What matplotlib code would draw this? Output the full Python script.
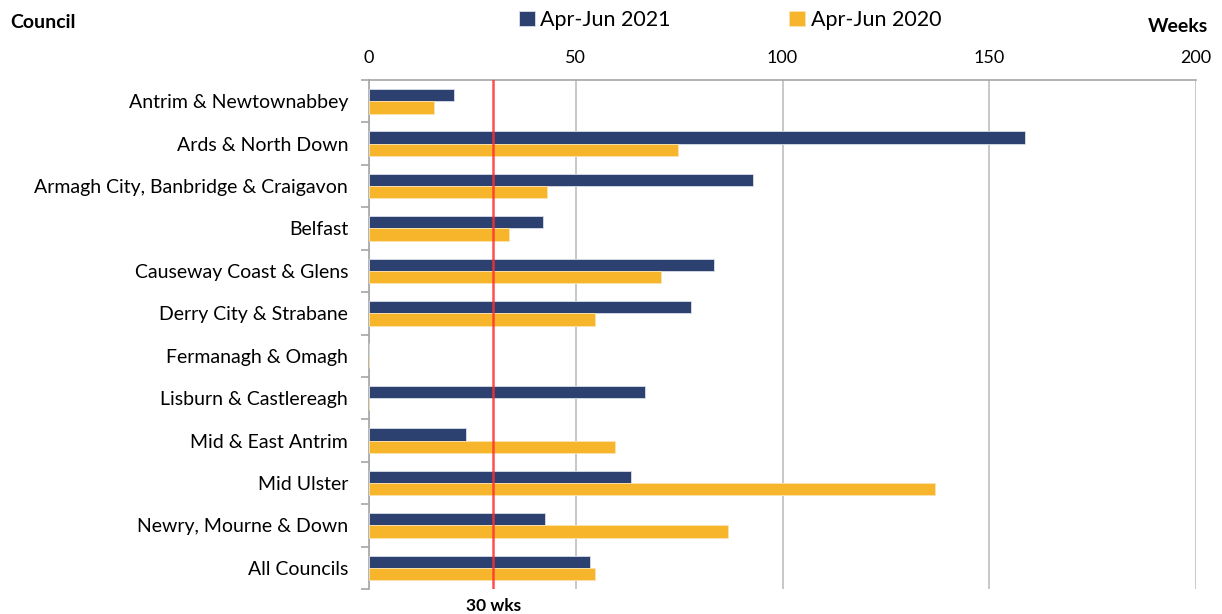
import matplotlib.pyplot as plt
import numpy as np

# values (weeks)
councils = ["Antrim & Newtownabbey", "Ards & North Down",
            "Armagh City, Banbridge & Craigavon", "Belfast",
            "Causeway Coast & Glens", "Derry City & Strabane",
            "Fermanagh & Omagh", "Lisburn & Castlereagh",
            "Mid & East Antrim", "Mid Ulster", "Newry, Mourne & Down",
            "All Councils"]
weeks_2021 = [20.6, 158.6, 92.9, 42.1, 83.4, 77.9, 0, 66.7, 23.5, 63.4, 42.6, 53.4]
weeks_2020 = [15.7, 74.7, 43.0, 33.9, 70.6, 54.7, 0, 0, 59.5, 136.9, 86.8, 54.7]
target = 30
xticks = [0, 50, 100, 150, 200]

plt.rcParams['font.family'] = ['Lato', 'DejaVu Sans']

fig = plt.figure(figsize=(12.22, 6.14), dpi=100)
ax = fig.add_axes([0.302, 0.0407, 0.9787 - 0.302, 0.8697 - 0.0407])

blue = "#2C4170"
yellow = "#F7B52C"
h = 0.29
y = np.arange(len(councils))
ax.barh(y - h / 2, weeks_2021, height=h, color=blue, edgecolor="#D9DEE8", linewidth=0.6,
        label="Apr-Jun 2021", zorder=3)
ax.barh(y + h / 2, weeks_2020, height=h, color=yellow, edgecolor="#FBE3B0", linewidth=0.6,
        label="Apr-Jun 2020", zorder=3)

ax.axvline(target, color="#FF3030", alpha=0.85, lw=1.8, zorder=4)

ax.set_xlim(0, 200)
ax.set_ylim(len(councils) - 0.5, -0.5)
ax.xaxis.tick_top()
ax.set_xticks(xticks)
ax.tick_params(axis="x", length=0, labelsize=13, pad=10)
ax.grid(axis="x", color="#BFBFBF", lw=1.2, zorder=0)

ax.set_yticks(y)
ax.set_yticklabels(councils, fontsize=14)
ax.tick_params(axis="y", length=0, pad=15)
ax.set_yticks(np.arange(len(councils) + 1) - 0.5, minor=True)
ax.tick_params(axis="y", which="minor", length=6, color="#A6A6A6", width=1.2)

for s in ["right", "bottom"]:
    ax.spines[s].set_visible(False)
ax.spines["top"].set_color("#A6A6A6")
ax.spines["left"].set_color("#A6A6A6")
ax.spines["top"].set_linewidth(1.2)
ax.spines["left"].set_linewidth(1.2)

fig.text(10 / 1222, 1 - 23 / 614, "Council", fontsize=14, fontweight="bold", va="center")
fig.text(1208 / 1222, 1 - 26 / 614, "Weeks", fontsize=14, fontweight="bold", va="center", ha="right")
ax.text(target, -0.018, "30 wks", transform=ax.get_xaxis_transform(), ha="center", va="top",
        fontsize=12.5, fontweight="bold")

fig.legend(loc="center", bbox_to_anchor=(730 / 1222, 1 - 20 / 614), ncol=2, frameon=False,
           fontsize=15.5, handlelength=0.75, handleheight=0.75, handletextpad=0.25,
           columnspacing=5.5)

fig.savefig("out.png", dpi=100)
